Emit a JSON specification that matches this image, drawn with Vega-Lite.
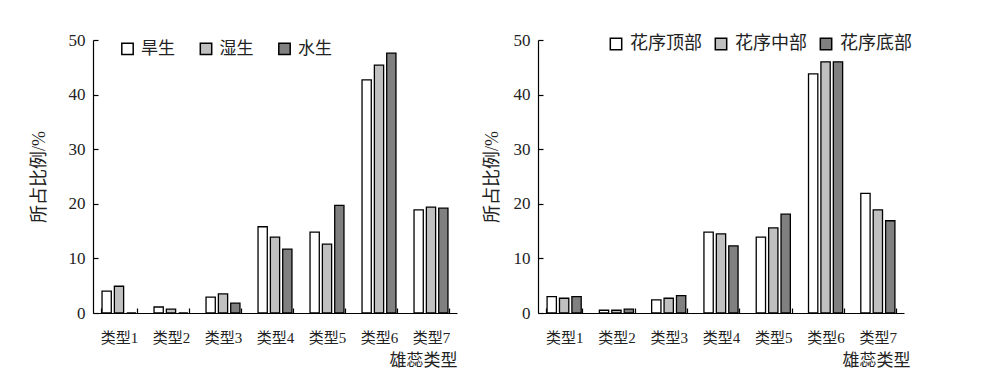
{
  "$schema": "https://vega.github.io/schema/vega-lite/v6.json",
  "background": "white",
  "padding": {"left": 30, "top": 31, "right": 5, "bottom": 0},
  "spacing": 26,
  "config": {
    "view": {"stroke": null},
    "font": "Liberation Serif, Noto Sans CJK SC",
    "axis": {
      "domainColor": "black",
      "domainWidth": 1.2,
      "tickColor": "black",
      "tickWidth": 1.2,
      "labelColor": "#222",
      "titleColor": "#222",
      "labelFont": "Liberation Serif, Noto Sans CJK SC",
      "titleFont": "Liberation Serif, Noto Sans CJK SC",
      "labelFontSize": 15,
      "titleFontSize": 17,
      "titleFontWeight": "normal",
      "grid": false
    },
    "axisY": {"labelFontSize": 17, "titleFontSize": 18},
    "legend": {
      "labelFont": "Liberation Serif, Noto Sans CJK SC",
      "labelFontSize": 17,
      "labelColor": "#222"
    }
  },
  "datasets": {
    "left": [
      {"type": "类型1", "group": "旱生", "value": 4.0},
      {"type": "类型1", "group": "湿生", "value": 4.9},
      {"type": "类型1", "group": "水生", "value": 0},
      {"type": "类型2", "group": "旱生", "value": 1.1},
      {"type": "类型2", "group": "湿生", "value": 0.7},
      {"type": "类型2", "group": "水生", "value": 0},
      {"type": "类型3", "group": "旱生", "value": 2.9},
      {"type": "类型3", "group": "湿生", "value": 3.5},
      {"type": "类型3", "group": "水生", "value": 1.8},
      {"type": "类型4", "group": "旱生", "value": 15.8},
      {"type": "类型4", "group": "湿生", "value": 13.9},
      {"type": "类型4", "group": "水生", "value": 11.7},
      {"type": "类型5", "group": "旱生", "value": 14.8},
      {"type": "类型5", "group": "湿生", "value": 12.6},
      {"type": "类型5", "group": "水生", "value": 19.7},
      {"type": "类型6", "group": "旱生", "value": 42.7},
      {"type": "类型6", "group": "湿生", "value": 45.4},
      {"type": "类型6", "group": "水生", "value": 47.6},
      {"type": "类型7", "group": "旱生", "value": 18.9},
      {"type": "类型7", "group": "湿生", "value": 19.4},
      {"type": "类型7", "group": "水生", "value": 19.2}
    ],
    "right": [
      {"type": "类型1", "group": "花序顶部", "value": 3.0},
      {"type": "类型1", "group": "花序中部", "value": 2.7},
      {"type": "类型1", "group": "花序底部", "value": 3.0},
      {"type": "类型2", "group": "花序顶部", "value": 0.5},
      {"type": "类型2", "group": "花序中部", "value": 0.5},
      {"type": "类型2", "group": "花序底部", "value": 0.7},
      {"type": "类型3", "group": "花序顶部", "value": 2.4},
      {"type": "类型3", "group": "花序中部", "value": 2.7},
      {"type": "类型3", "group": "花序底部", "value": 3.2},
      {"type": "类型4", "group": "花序顶部", "value": 14.8},
      {"type": "类型4", "group": "花序中部", "value": 14.5},
      {"type": "类型4", "group": "花序底部", "value": 12.3},
      {"type": "类型5", "group": "花序顶部", "value": 13.9},
      {"type": "类型5", "group": "花序中部", "value": 15.6},
      {"type": "类型5", "group": "花序底部", "value": 18.1},
      {"type": "类型6", "group": "花序顶部", "value": 43.8},
      {"type": "类型6", "group": "花序中部", "value": 46.0},
      {"type": "类型6", "group": "花序底部", "value": 46.0},
      {"type": "类型7", "group": "花序顶部", "value": 21.9},
      {"type": "类型7", "group": "花序中部", "value": 18.9},
      {"type": "类型7", "group": "花序底部", "value": 16.9}
    ]
  },
  "hconcat": [
    {
      "width": 364,
      "height": 273,
      "data": {"name": "left"},
      "mark": {"type": "bar", "stroke": "black", "strokeWidth": 1.3},
      "encoding": {
        "x": {
          "field": "type", "type": "nominal",
          "scale": {"paddingInner": 0.3, "paddingOuter": 0.15},
          "axis": {"title": "雄蕊类型", "labelAngle": 0, "tickBand": "extent", "tickSize": -5, "labelPadding": 22, "titleAnchor": "end", "titlePadding": 7, "titleX": 364, "titleAlign": "right"}
        },
        "xOffset": {"field": "group", "type": "nominal", "scale": {"domain": ["旱生", "湿生", "水生"], "paddingInner": 0.25, "paddingOuter": 0.1}},
        "y": {
          "field": "value", "type": "quantitative",
          "scale": {"domain": [0, 50]},
          "axis": {"title": "所占比例/%", "values": [0, 10, 20, 30, 40, 50], "tickSize": -5, "labelPadding": 13, "titlePadding": 20}
        },
        "fill": {
          "field": "group", "type": "nominal",
          "scale": {"domain": ["旱生", "湿生", "水生"], "range": ["white", "#c0c0c0", "#808080"]},
          "legend": {"title": null, "orient": "none", "legendX": 26, "legendY": 0, "direction": "horizontal", "symbolType": "square", "symbolSize": 130, "symbolStrokeColor": "black", "symbolStrokeWidth": 1.5, "columnPadding": 21.5, "labelOffset": 5}
        }
      }
    },
    {
      "width": 366,
      "height": 273,
      "data": {"name": "right"},
      "mark": {"type": "bar", "stroke": "black", "strokeWidth": 1.3},
      "encoding": {
        "x": {
          "field": "type", "type": "nominal",
          "scale": {"paddingInner": 0.3, "paddingOuter": 0.15},
          "axis": {"title": "雄蕊类型", "labelAngle": 0, "tickBand": "extent", "tickSize": -5, "labelPadding": 22, "titleAnchor": "end", "titlePadding": 7, "titleX": 372, "titleAlign": "right"}
        },
        "xOffset": {"field": "group", "type": "nominal", "scale": {"domain": ["花序顶部", "花序中部", "花序底部"], "paddingInner": 0.25, "paddingOuter": 0.1}},
        "y": {
          "field": "value", "type": "quantitative",
          "scale": {"domain": [0, 50]},
          "axis": {"title": "所占比例/%", "values": [0, 10, 20, 30, 40, 50], "tickSize": -5, "labelPadding": 13, "titlePadding": 12}
        },
        "fill": {
          "field": "group", "type": "nominal",
          "scale": {"domain": ["花序顶部", "花序中部", "花序底部"], "range": ["white", "#c0c0c0", "#808080"]},
          "legend": {"title": null, "orient": "none", "legendX": 69, "legendY": -5, "direction": "horizontal", "symbolType": "square", "symbolSize": 130, "symbolStrokeColor": "black", "symbolStrokeWidth": 1.5, "columnPadding": 10, "labelOffset": 5, "labelFontSize": 18}
        }
      }
    }
  ],
  "resolve": {"scale": {"fill": "independent", "xOffset": "independent", "x": "independent", "y": "independent"}, "legend": {"fill": "independent"}}
}
